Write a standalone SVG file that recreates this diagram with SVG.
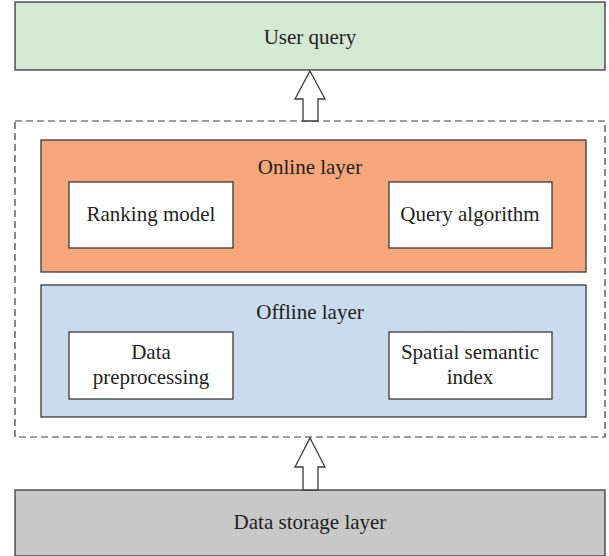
<svg xmlns="http://www.w3.org/2000/svg" width="609" height="556" viewBox="0 0 609 556">
<style>
.box{stroke:#3a3a3a;stroke-width:1.3}
.inner{fill:#ffffff;stroke:#3a3a3a;stroke-width:1.3}
text{font-family:"Liberation Serif",serif;font-size:21px;fill:#231f20;text-anchor:middle}
.arrow{fill:#ffffff;stroke:#3a3a3a;stroke-width:1.3;stroke-linejoin:miter}
</style>
<rect width="609" height="556" fill="#ffffff"/>
<g id="user-query">
<rect class="box" x="15" y="2" width="590" height="68" fill="#d5e8d4"/>
<text x="310" y="44">User query</text>
</g>
<g id="container">
<rect x="15" y="121" width="590" height="316" fill="none" stroke="#3a3a3a" stroke-width="1.2" stroke-dasharray="7,4"/>
</g>
<g id="online-layer">
<rect class="box" x="41" y="140" width="545" height="132" fill="#f5a77b"/>
<text x="310" y="174">Online layer</text>
</g>
<g id="ranking-model">
<rect class="inner" x="69" y="182" width="164" height="66"/>
<text x="151" y="221">Ranking model</text>
</g>
<g id="query-algorithm">
<rect class="inner" x="389" y="182" width="163" height="66"/>
<text x="470" y="221">Query algorithm</text>
</g>
<g id="offline-layer">
<rect class="box" x="41" y="285" width="545" height="132" fill="#c9dbed"/>
<text x="310" y="319">Offline layer</text>
</g>
<g id="data-preprocessing">
<rect class="inner" x="69" y="332" width="164" height="67"/>
<text x="151" y="359">Data</text>
<text x="151" y="384">preprocessing</text>
</g>
<g id="spatial-semantic-index">
<rect class="inner" x="389" y="332" width="163" height="67"/>
<text x="470" y="359">Spatial semantic</text>
<text x="470" y="384">index</text>
</g>
<g id="data-storage">
<rect class="box" x="15" y="490" width="590" height="66" fill="#c8c8c9"/>
<text x="310" y="529">Data storage layer</text>
</g>
<g id="connectors">
<path class="arrow" d="M310,71 L325,99 L318,99 L318,121 L303,121 L303,99 L295,99 Z"/>
<path class="arrow" d="M310,438 L325,467 L318,467 L318,490 L303,490 L303,467 L295,467 Z"/>
</g>
</svg>
